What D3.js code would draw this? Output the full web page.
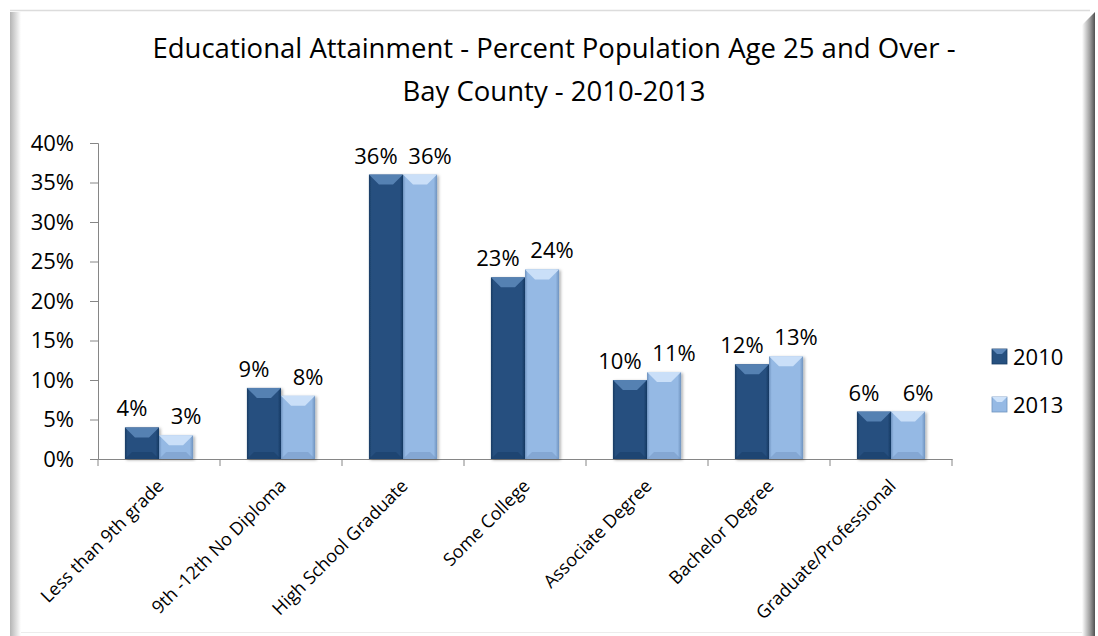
<!DOCTYPE html>
<html>
<head>
<meta charset="utf-8">
<script src="https://cdn.jsdelivr.net/npm/d3@7"></script>
<style>
  body { margin: 0; background: #fff; }
  svg { display: block; font-family: "Open Sans", sans-serif; }
</style>
</head>
<body>
<div id="chart"><svg width="1098" height="636"></svg></div>
<script>
// data
const categories = ["Less than 9th grade", "9th -12th No Diploma", "High School Graduate",
    "Some College", "Associate Degree", "Bachelor Degree", "Graduate/Professional"];
const series = ["2010", "2013"];
const values2010 = [0.04, 0.09, 0.36, 0.23, 0.10, 0.12, 0.06];
const values2013 = [0.03, 0.08, 0.36, 0.24, 0.11, 0.13, 0.06];
const yTicks = [0, 0.05, 0.10, 0.15, 0.20, 0.25, 0.30, 0.35, 0.40];
const titleLines = ["Educational Attainment - Percent Population Age 25 and Over -", "Bay County - 2010-2013"];

function Chart(config){
    var width = config.width,
        height = config.height,
        font = '"Open Sans", sans-serif',
        svg, x, x1, y

    const colors = {
        "2010": {base: "#26507f", light: "#5b86b8", dark: "#173a63"},
        "2013": {base: "#95b9e4", light: "#cfe3fa", dark: "#6f93bf"}
    }

    function chart(){
        initialize();
        drawFrame();
        drawTitle();
        drawAxes();
        drawBars();
        drawLegend();
    }

    const initialize = () => {
        svg = d3.select('#' + config.id).select('svg')
        x = d3.scaleBand().domain(categories).range([98, 952])
        x1 = d3.scaleBand().domain(series).range([0, x.bandwidth()]).paddingOuter(0.79)
        y = d3.scaleLinear().domain([0, 0.4]).range([459, 143])

        var defs = svg.append('defs')
        var lg = defs.append('linearGradient').attr('id', 'leftShade')
        lg.append('stop').attr('offset', 0).attr('stop-color', '#b4b4b4')
        lg.append('stop').attr('offset', 1).attr('stop-color', '#ffffff')
        var rg = defs.append('linearGradient').attr('id', 'rightShade')
        rg.append('stop').attr('offset', 0).attr('stop-color', '#ffffff')
        rg.append('stop').attr('offset', 0.6).attr('stop-color', '#a0a0a0')
        rg.append('stop').attr('offset', 1).attr('stop-color', '#505050')

        series.forEach(s => {
            var g = defs.append('linearGradient').attr('id', 'bar' + s)
            g.append('stop').attr('offset', 0).attr('stop-color', colors[s].dark)
            g.append('stop').attr('offset', 0.08).attr('stop-color', colors[s].base)
            g.append('stop').attr('offset', 0.9).attr('stop-color', colors[s].base)
            g.append('stop').attr('offset', 1).attr('stop-color', colors[s].dark)
        })
        var f = defs.append('filter').attr('id', 'shadow').attr('x', '-20%').attr('width', '150%')
        f.append('feDropShadow').attr('dx', 1.5).attr('dy', 1).attr('stdDeviation', 1.5)
            .attr('flood-color', '#000').attr('flood-opacity', 0.35)
    }

    const drawFrame = () => {
        svg.append('rect').attr('x', 10).attr('y', 10).attr('width', 1085).attr('height', 622).attr('fill', '#fff')
        svg.append('line').attr('x1', 10).attr('x2', 1090).attr('y1', 10.5).attr('y2', 10.5)
            .attr('stroke', '#dcdcdc').attr('stroke-width', 1.5)
        svg.append('line').attr('x1', 20).attr('x2', 1082).attr('y1', 632.5).attr('y2', 632.5)
            .attr('stroke', '#ececec').attr('stroke-width', 1)
        svg.append('rect').attr('x', 10).attr('y', 12).attr('width', 11).attr('height', 624).attr('fill', 'url(#leftShade)')
        svg.append('polygon').attr('points', '1082,25 1095,12 1095,636 1082,636').attr('fill', 'url(#rightShade)')
    }

    const drawTitle = () => {
        svg.append('g').selectAll('text').data(titleLines).enter()
            .append('text')
            .attr('x', 554)
            .attr('y', (d, i) => 58 + i * 43)
            .attr('text-anchor', 'middle')
            .attr('font-size', 27.5)
            .attr('fill', '#000')
            .text(d => d)
    }

    const drawAxes = () => {
        var yAxis = svg.append('g')
            .attr('transform', 'translate(98,0)')
            .call(d3.axisLeft(y).tickValues(yTicks).tickFormat(d3.format('.0%')).tickSize(8).tickPadding(16))
        yAxis.selectAll('text').attr('font-size', 22).attr('font-family', font).attr('fill', '#000')

        var xAxis = svg.append('g').attr('transform', 'translate(0,459)')
        xAxis.call(d3.axisBottom(x).tickSize(0).tickFormat(''))
        xAxis.selectAll('.tick').remove()
        xAxis.selectAll('line.bound').data(d3.range(categories.length + 1)).enter()
            .append('line')
            .attr('x1', i => 98 + i * x.step()).attr('x2', i => 98 + i * x.step())
            .attr('y1', 0).attr('y2', 7)
        svg.selectAll('.domain, line').filter(function(){ return this.closest('g') }).attr('stroke', '#868686')

        xAxis.selectAll('text.cat').data(categories).enter()
            .append('text')
            .attr('class', 'cat')
            .attr('transform', d => 'translate(' + (x(d) + x.bandwidth() / 2 + 6) + ',28) rotate(-45)')
            .attr('text-anchor', 'end')
            .attr('font-family', font)
            .attr('font-size', 18)
            .attr('fill', '#000')
            .text(d => d)
    }

    const drawBars = () => {
        var rows = categories.map((c, i) => ({cat: c, vals: [values2010[i], values2013[i]]}))
        var groups = svg.append('g').selectAll('g').data(rows).enter()
            .append('g').attr('transform', d => 'translate(' + x(d.cat) + ',0)')

        var bars = groups.selectAll('g.bar').data(d => d.vals.map((v, j) => ({s: series[j], v: v}))).enter()
            .append('g').attr('class', 'bar')
        var bw = x1.bandwidth()

        bars.append('rect')
            .attr('x', d => x1(d.s)).attr('y', d => y(d.v))
            .attr('width', bw).attr('height', d => y(0) - y(d.v))
            .attr('fill', d => 'url(#bar' + d.s + ')')
            .attr('filter', 'url(#shadow)')
        // bevel top
        bars.append('polygon')
            .attr('points', d => {
                var x0 = x1(d.s), t = y(d.v), b = 10
                return [[x0, t], [x0 + bw, t], [x0 + bw - b, t + b], [x0 + b, t + b]].join(' ')
            })
            .attr('fill', d => colors[d.s].light)
            .attr('opacity', 0.9)
        // bevel bottom
        bars.append('polygon')
            .attr('points', d => {
                var x0 = x1(d.s), bt = y(0), b = 7
                return [[x0, bt], [x0 + bw, bt], [x0 + bw - b, bt - b], [x0 + b, bt - b]].join(' ')
            })
            .attr('fill', d => colors[d.s].dark)
            .attr('opacity', 0.45)

        // labels are pushed apart a little, like the reference
        bars.append('text')
            .attr('x', d => x1(d.s) + bw / 2 + (d.s === series[0] ? -10 : 10))
            .attr('y', d => y(d.v) - 11)
            .attr('text-anchor', 'middle')
            .attr('font-size', 22)
            .attr('fill', '#000')
            .text(d => d3.format('.0%')(d.v))
    }

    const drawLegend = () => {
        var leg = svg.append('g').selectAll('g').data(series).enter()
            .append('g').attr('transform', (d, i) => 'translate(992,' + (349 + i * 48) + ')')
        leg.append('rect').attr('width', 15).attr('height', 15).attr('fill', d => colors[d].base)
            .attr('stroke', d => colors[d].dark).attr('stroke-width', 0.8)
        leg.append('polygon').attr('points', '0,0 15,0 10,5 5,5').attr('fill', d => colors[d].light)
        leg.append('text').attr('x', 21).attr('y', 16).attr('font-size', 22).attr('fill', '#000').text(d => d)
    }

    return chart;
}

var chart = Chart({id: 'chart', width: 1098, height: 636})
chart()
</script>
</body>
</html>
